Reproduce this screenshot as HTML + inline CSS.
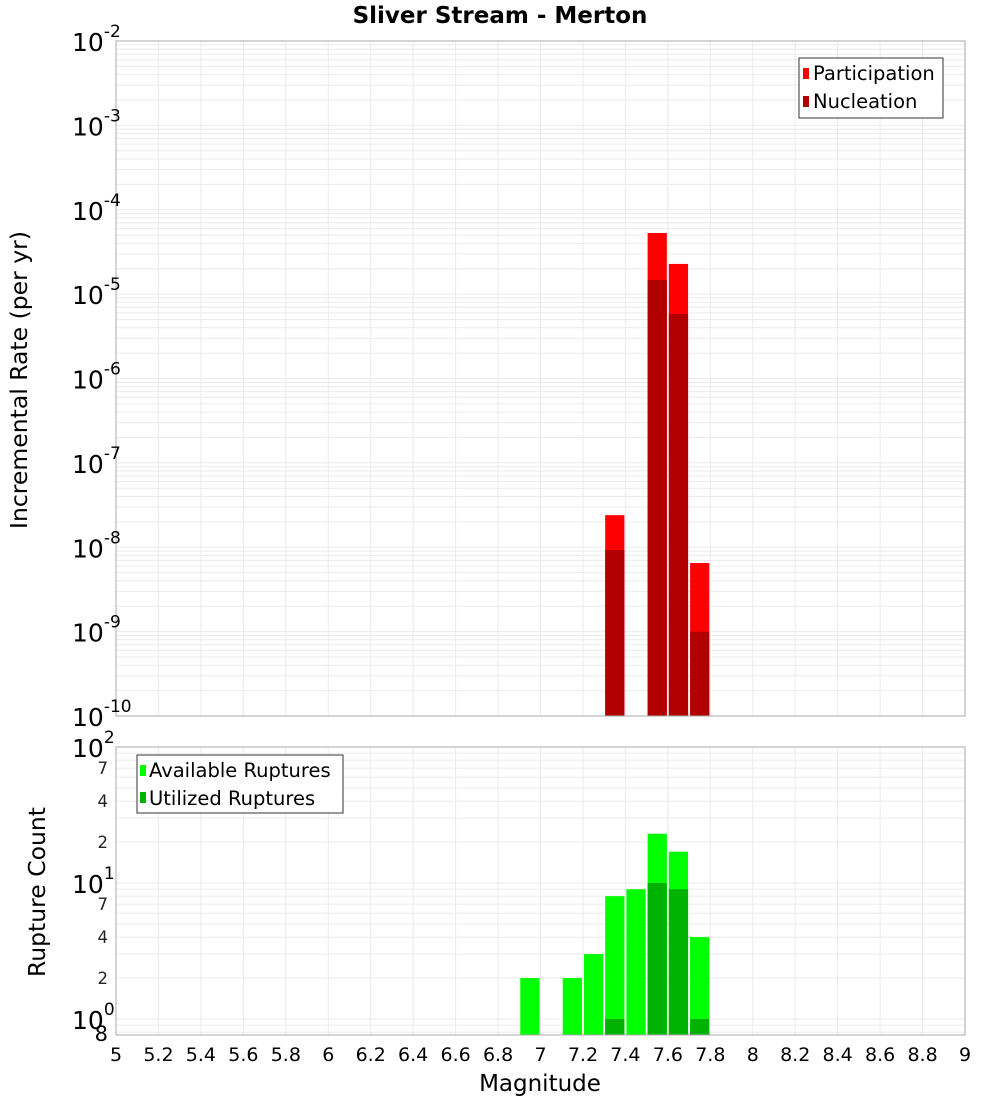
<!DOCTYPE html>
<html><head><meta charset="utf-8"><style>
body{margin:0;background:#fff}
svg{font-family:"DejaVu Sans","Liberation Sans",sans-serif}
</style></head><body>
<svg id="c" width="1000" height="1100" xmlns="http://www.w3.org/2000/svg">
<text x="500" y="23" text-anchor="middle" font-size="23" font-weight="bold">Sliver Stream - Merton</text>
<text transform="translate(27,380) rotate(-90)" text-anchor="middle" font-size="23.5">Incremental Rate (per yr)</text>
<text transform="translate(45,892) rotate(-90)" text-anchor="middle" font-size="23.5">Rupture Count</text>
<text x="540" y="1091" text-anchor="middle" font-size="23">Magnitude</text>
<g id="g"></g>
</svg>
<script>
const topMags=[7.35,7.55,7.65,7.75];
const participation=[2.4e-8,5.3e-5,2.28e-5,6.5e-9];
const nucleation=[9.3e-9,1.47e-5,5.8e-6,1.0e-9];
const botMags=[6.95,7.15,7.25,7.35,7.45,7.55,7.65,7.75];
const available=[2,2,3,8,9,23,17,4];
const utilized=[0,0,0,1,0,10,9,1];
const xTicks=[5,5.2,5.4,5.6,5.8,6,6.2,6.4,6.6,6.8,7,7.2,7.4,7.6,7.8,8,8.2,8.4,8.6,8.8,9];
const topExps=[-2,-3,-4,-5,-6,-7,-8,-9,-10];
const botExps=[2,1,0];
const botMinor=[7,4,2];

const NS="http://www.w3.org/2000/svg";
const g=document.getElementById('g');
function el(t,a,p){const e=document.createElementNS(NS,t);for(const k in a)e.setAttribute(k,a[k]);(p||g).appendChild(e);return e;}
const X0=116,X1=965;
const xs=m=>X0+(m-5)/4*(X1-X0);
const T0=41,T1=716;
const yT=v=>T0+(-2-Math.log10(v))*(T1-T0)/8;
const B0=747,B1=1035,BD=136,B10=1019;
const yB=v=>B10-Math.log10(v)*BD;
const bw=0.1*(X1-X0)/4;

let r=el('rect',{x:X0,y:T0,width:X1-X0,height:T1-T0,fill:'#fff',stroke:'none'});


for(let e=-10;e<-2;e++)for(let k=1;k<10;k++){const y=yT(k*Math.pow(10,e));
 const l=el('line',{x1:X0,x2:X1,y1:y,y2:y,stroke:'#ebebeb','stroke-width':1});
 
 }
for(const t of xTicks){const l=el('line',{x1:xs(t),x2:xs(t),y1:T0,y2:T1,stroke:'#ebebeb'});
 
 }
topMags.forEach((m,i)=>{
 const p=el('rect',{x:xs(m)-bw/2+1,y:yT(participation[i]),width:bw-2,height:T1-yT(participation[i]),fill:'#ff0000'});
 
 
 const n=el('rect',{x:xs(m)-bw/2+1,y:yT(nucleation[i]),width:bw-2,height:T1-yT(nucleation[i]),fill:'#b20000'});
 
 
});
r=el('rect',{x:X0,y:T0,width:X1-X0,height:T1-T0,fill:'none',stroke:'#aaa'});


topExps.forEach(e=>{const y=yT(Math.pow(10,e));
 const t=el('text',{x:72,y:y+10,'font-size':25});
 
 
 t.textContent='10';
 const s=el('tspan',{dy:-14,'font-size':17},t);s.textContent=String(e);});
let lg=el('g',{});


el('rect',{x:799,y:58,width:144,height:60,fill:'#fff',stroke:'#333'},lg);
el('rect',{x:803,y:68,width:6,height:11,fill:'#ff0000'},lg);
el('rect',{x:803,y:96,width:6,height:11,fill:'#b20000'},lg);
let tt=el('text',{x:813,y:80,'font-size':19.5},lg);tt.textContent='Participation';
tt=el('text',{x:813,y:108,'font-size':19.5},lg);tt.textContent='Nucleation';

for(let e=-1;e<2;e++)for(let k=1;k<10;k++){const y=yB(k*Math.pow(10,e));if(y>B1||y<B0)continue;
 const l=el('line',{x1:X0,x2:X1,y1:y,y2:y,stroke:'#ebebeb'});
 
 }
for(const t of xTicks){const l=el('line',{x1:xs(t),x2:xs(t),y1:B0,y2:B1,stroke:'#ebebeb'});
 
 }
botMags.forEach((m,i)=>{
 const a=el('rect',{x:xs(m)-bw/2+1,y:yB(available[i]),width:bw-2,height:B1-yB(available[i]),fill:'#00ff00'});
 
 
 if(utilized[i]>0){
 const u=el('rect',{x:xs(m)-bw/2+1,y:yB(utilized[i]),width:bw-2,height:B1-yB(utilized[i]),fill:'#00b200'});
 
 }
});
r=el('rect',{x:X0,y:B0,width:X1-X0,height:B1-B0,fill:'none',stroke:'#aaa'});


botExps.forEach(e=>{const y=yB(Math.pow(10,e));
 const t=el('text',{x:72,y:y+10,'font-size':25});
 
 
 t.textContent='10';
 const s=el('tspan',{dy:-14,'font-size':17},t);s.textContent=String(e);});
[1,0].forEach(e=>botMinor.forEach(k=>{const y=yB(k*Math.pow(10,e));
 const t=el('text',{x:108,y:y+6,'font-size':16.5,'text-anchor':'end',fill:'#222'});
 
 
 t.textContent=String(k);}));
let t8=el('text',{x:108,y:1041,'font-size':21,'text-anchor':'end'});


t8.textContent='8';
lg=el('g',{});


el('rect',{x:137,y:755,width:206,height:58,fill:'#fff',stroke:'#333'},lg);
el('rect',{x:140,y:765,width:6,height:11,fill:'#00ff00'},lg);
el('rect',{x:140,y:792,width:6,height:11,fill:'#00b200'},lg);
tt=el('text',{x:149,y:777,'font-size':19.5},lg);tt.textContent='Available Ruptures';
tt=el('text',{x:149,y:805,'font-size':19.5},lg);tt.textContent='Utilized Ruptures';

xTicks.forEach(v=>{const t=el('text',{x:xs(v),y:1061,'font-size':19,'text-anchor':'middle'});
 
 
 t.textContent=String(v);});
</script>
</body></html>
